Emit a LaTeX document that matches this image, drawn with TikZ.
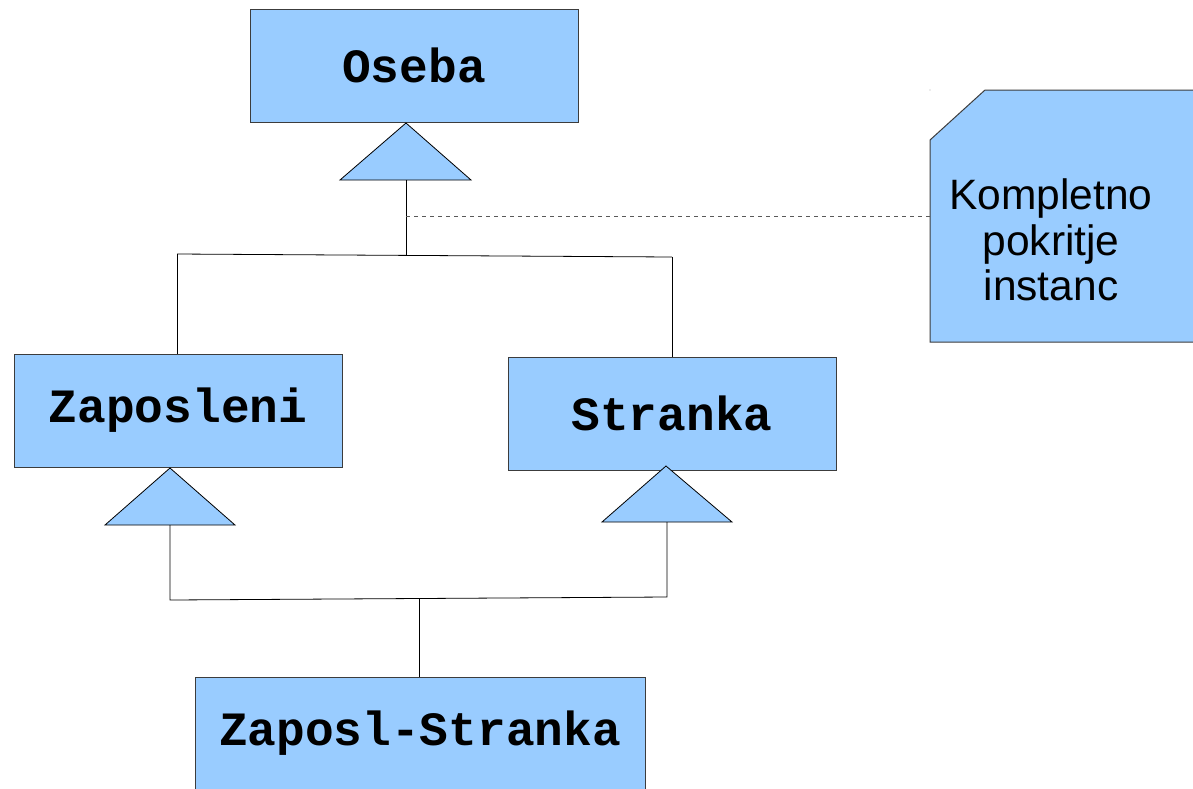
\documentclass[tikz,border=0pt]{standalone}
\usepackage{fontspec}
\setmainfont{Liberation Sans}
\newfontfamily\boxmono{Liberation Mono}
\definecolor{boxblue}{HTML}{99CCFF}
\definecolor{edgegray}{HTML}{3C3C3C}
\begin{document}
\begin{tikzpicture}[x=1pt,y=-1pt,
  cls/.style={draw=edgegray, line width=1pt, fill=boxblue, minimum height=113pt, inner sep=0pt,
    font=\boxmono\bfseries\fontsize{47.8}{50}\selectfont},
  gen/.style={draw=black, line width=0.8pt, fill=boxblue, line join=miter},
  link/.style={draw=black, line width=0.8pt},
  notebox/.style={draw=edgegray, line width=1pt, fill=boxblue},
  notetext/.style={align=center, inner sep=0pt, font=\fontsize{42.5}{45.5}\selectfont}
]
\useasboundingbox (0,0) rectangle (1193,788);
\fill[white] (0,0) rectangle (1193,788);

% classes
\node[cls, minimum width=328pt] (oseba) at (414,65.5) {Oseba};
\node[cls, minimum width=328pt] (zap) at (178,410.5) {Zaposleni};
\node[cls, minimum width=328pt] (str) at (672,413.5) {Stranka};
\node[cls, minimum width=450pt] (zs) at (420,733.5) {Zaposl-Stranka};

% generalisation triangles
\coordinate (t1a) at (406,123);
\coordinate (t1b) at (406,180);
\draw[gen] (t1a) -- (471,180) -- (340,180) -- cycle;
\coordinate (t2a) at (170,468);
\coordinate (t2b) at (170,525);
\draw[gen] (t2a) -- (235,525) -- (105,525) -- cycle;
\coordinate (t3a) at (666,466);
\coordinate (t3b) at (667,522);
\draw[gen] (t3a) -- (732,522) -- (602,522) -- cycle;

% upper tree
\coordinate (j1) at (406,255);
\coordinate (j1l) at (177,254);
\coordinate (j1r) at (672,257);
\draw[link] (t1b) -- (j1);
\draw[link] (j1l) -- (j1r);
\draw[link] (j1l) -- (zap.north -| j1l);
\draw[link] (j1r) -- (str.north -| j1r);

% lower tree
\coordinate (j2l) at (170,600);
\coordinate (j2r) at (667,597);
\coordinate (j2) at (419,598.5);
\draw[link] (t2b) -- (j2l) -- (j2r) -- (t3b);
\draw[link] (j2) -- (zs.north -| j2);

% note
\draw[notebox] (930,140) -- (985,90) -- (1194,90) -- (1194,342) -- (930,342) -- cycle;
\node[notetext] (note) at (1051,240) {Kompletno\\pokritje\\instanc};
\coordinate (nleft) at (930,216);
\coordinate (dstart) at (406,216);
\draw[gray!70!black, line width=0.8pt, dash pattern=on 4pt off 4pt] (dstart) -- (nleft);
\fill[gray!60] (930,90) circle (0.7pt);
\end{tikzpicture}
\end{document}
